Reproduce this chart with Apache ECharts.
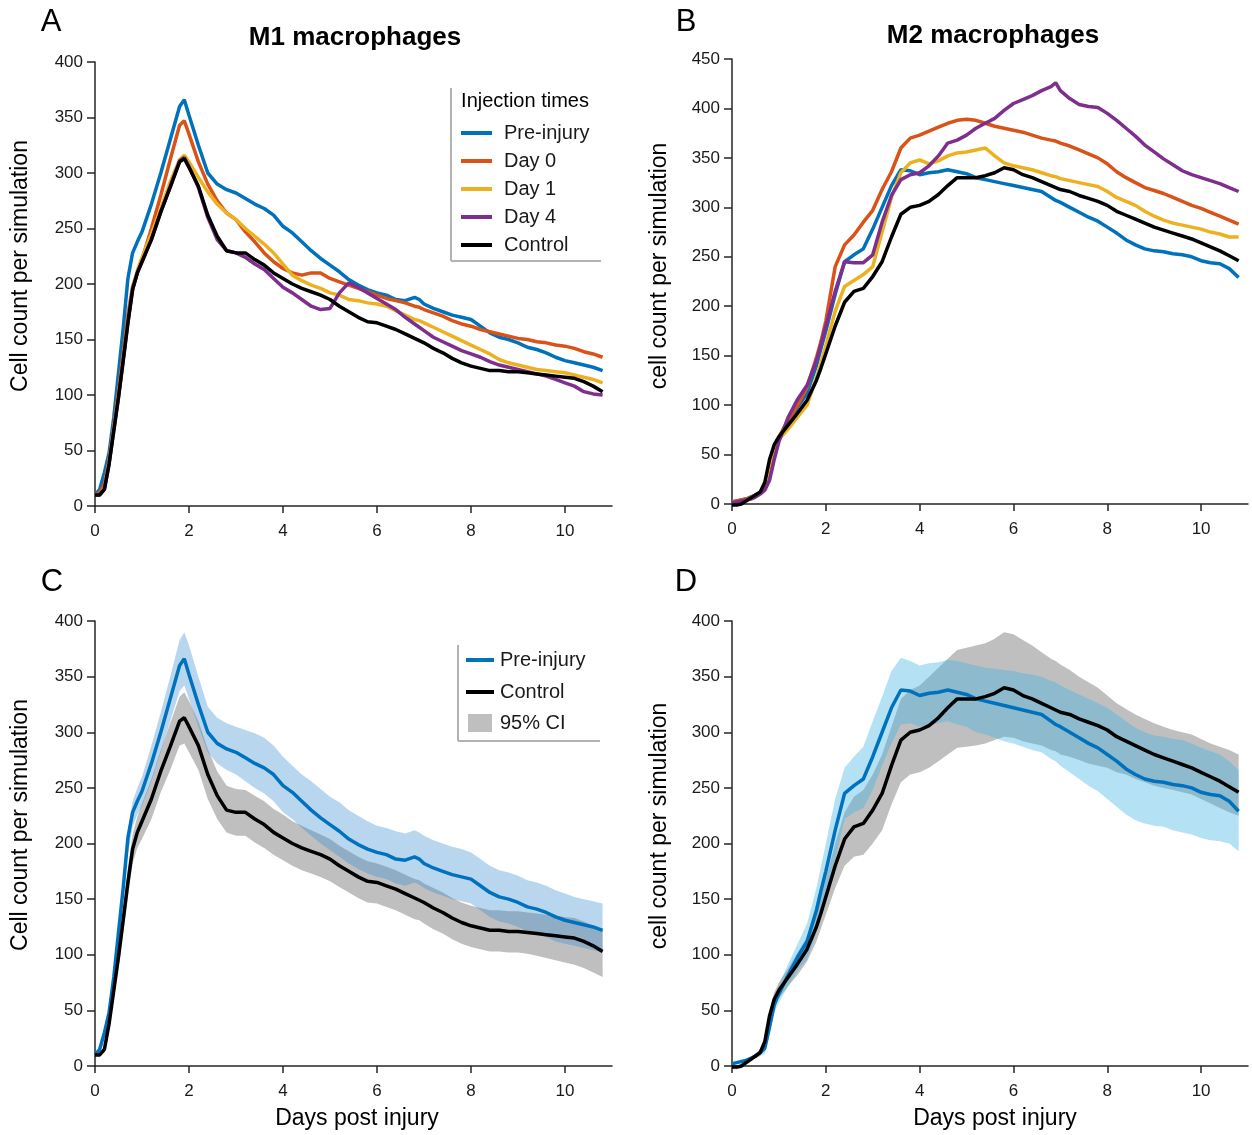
<!DOCTYPE html>
<html>
<head>
<meta charset="utf-8">
<script src="https://cdn.jsdelivr.net/npm/echarts@6/dist/echarts.min.js"></script>
<style>
  html, body { margin: 0; padding: 0; background: #fff; }
  #main { width: 1252px; height: 1135px; }
</style>
</head>
<body>
<div id="main"></div>
<script>
// Sample days (x values) shared by every series
const days = [0, 0.1, 0.2, 0.3, 0.4, 0.5, 0.6, 0.7, 0.8, 0.9, 1.0,
  1.2, 1.4, 1.6, 1.8, 1.9, 2.0,
  2.2, 2.4, 2.6, 2.8, 3.0, 3.2, 3.4, 3.6, 3.8, 4.0,
  4.2, 4.4, 4.6, 4.8, 5.0, 5.2, 5.4, 5.6, 5.8, 6.0,
  6.2, 6.4, 6.6, 6.8, 6.9, 7.0,
  7.2, 7.4, 7.6, 7.8, 8.0, 8.2, 8.4, 8.6, 8.8, 9.0,
  9.2, 9.4, 9.6, 9.8, 10.0, 10.2, 10.4, 10.6, 10.8];

const xTicks = [0, 2, 4, 6, 8, 10];

// M1 macrophages (panel A, lines reused in C)
const m1Pre = [10, 15, 30, 48, 80, 120, 160, 205, 228, 238, 247,
  272, 300, 330, 360, 366, 352,
  325, 300, 290, 285, 282, 277, 272, 268, 262, 252,
  246, 238, 230, 223, 217, 211, 204, 199, 195, 192,
  190, 186, 185, 188, 186, 182,
  178, 175, 172, 170, 168, 162, 156, 152, 150, 147,
  143, 141, 138, 134, 131, 129, 127, 125, 122];
const m1Day0 = [10, 12, 20, 42, 72, 104, 138, 172, 198, 210, 222,
  250, 280, 312, 343, 347, 335,
  310, 290, 275, 264, 258, 247, 238, 228, 220, 214,
  210, 208, 210, 210, 205, 202, 199, 196, 193, 190,
  187, 185, 183, 180, 179, 177,
  174, 171, 167, 164, 162, 159, 157, 155, 153, 151,
  150, 148, 147, 145, 144, 142, 139, 137, 134];
const m1Day1 = [10, 10, 16, 40, 70, 100, 133, 167, 196, 212, 224,
  245, 268, 292, 312, 316, 310,
  296, 283, 272, 264, 258, 250, 243, 236, 228, 218,
  208, 203, 199, 196, 192, 190, 186, 185, 183, 182,
  180, 176, 172, 168, 167, 165,
  161, 157, 153, 149, 145, 141, 137, 132, 129, 127,
  125, 123, 122, 121, 120, 118, 116, 114, 111];
const m1Day4 = [10, 10, 15, 38, 68, 98, 131, 165, 195, 210, 220,
  240, 265, 288, 311, 314, 306,
  287, 260, 240, 230, 228, 224, 218, 213, 205, 197,
  192, 186, 180, 177, 178, 192, 201, 197, 192, 187,
  182, 177, 170, 164, 161, 158,
  152, 148, 144, 140, 137, 134, 130, 127, 125, 123,
  121, 119, 117, 114, 111, 108, 103, 101, 100];
const m1Ctrl = [10, 10, 15, 38, 68, 98, 131, 165, 195, 210, 220,
  240, 265, 287, 310, 313, 305,
  288, 262, 243, 230, 228, 228, 222, 217, 210, 205,
  200, 196, 193, 190, 186, 180, 175, 170, 166, 165,
  162, 159, 155, 151, 149, 147,
  142, 138, 133, 129, 126, 124, 122, 122, 121, 121,
  120, 119, 118, 117, 116, 115, 112, 108, 103];

// M1 95% CI (panel C)
const m1PreHi = [11, 18, 35, 56, 88, 125, 168, 212, 238, 250, 260,
  288, 318, 350, 383, 390, 378,
  350, 323, 313, 308, 305, 302, 299, 295, 288, 278,
  270, 262, 256, 249, 242, 237, 230, 225, 220, 216,
  214, 211, 209, 212, 210, 207,
  203, 200, 197, 195, 192, 186, 180, 176, 174, 171,
  167, 165, 162, 158, 155, 152, 150, 148, 146];
const m1PreLo = [9, 12, 25, 40, 72, 112, 150, 190, 215, 226, 234,
  256, 282, 310, 337, 342, 330,
  305, 282, 272, 266, 262, 256, 250, 245, 238, 228,
  222, 214, 207, 200, 194, 188, 182, 177, 173, 170,
  168, 164, 162, 165, 163, 160,
  156, 153, 150, 148, 146, 140, 134, 130, 128, 125,
  121, 119, 116, 112, 110, 108, 106, 104, 102];
const m1CtrlHi = [11, 11, 18, 44, 76, 108, 142, 178, 208, 224, 236,
  258, 284, 308, 332, 336, 328,
  310, 285, 265, 252, 249, 248, 243, 238, 231, 226,
  220, 216, 212, 208, 204, 198, 193, 188, 184, 182,
  179, 176, 172, 168, 167, 164,
  160, 156, 151, 147, 144, 142, 140, 140, 139, 139,
  138, 137, 136, 135, 134, 133, 130, 126, 122];
const m1CtrlLo = [9, 9, 12, 32, 60, 88, 120, 152, 182, 196, 204,
  222, 246, 266, 288, 290, 282,
  266, 240, 222, 210, 207, 207, 201, 196, 190, 185,
  180, 176, 173, 170, 166, 161, 156, 151, 147, 146,
  143, 140, 136, 132, 131, 128,
  123, 119, 114, 110, 107, 105, 103, 103, 102, 102,
  101, 99, 97, 95, 93, 91, 88, 84, 80];

// M2 macrophages (panel B, lines reused in D)
const m2Pre = [2, 3, 4, 5, 7, 9, 12, 16, 35, 55, 65,
  82, 98, 112, 140, 158, 175,
  212, 245, 252, 258, 278, 300, 322, 338, 337, 333,
  335, 336, 338, 336, 334, 330, 328, 326, 324, 322,
  320, 318, 316, 310, 307, 305,
  300, 295, 290, 286, 280, 274, 267, 262, 258, 256,
  255, 253, 252, 250, 246, 244, 243, 238, 229];
const m2Day0 = [2, 3, 4, 5, 7, 9, 12, 17, 37, 57, 68,
  85, 100, 118, 148, 165, 185,
  240, 262, 272, 285, 297, 318, 336, 360, 370, 373,
  377, 381, 385, 388, 389, 388, 385, 382, 380, 378,
  376, 373, 370, 368, 367, 365,
  362, 358, 354, 350, 344, 336, 330, 325, 320, 317,
  314, 310, 306, 302, 299, 295, 291, 287, 283];
const m2Day1 = [0, 1, 2, 4, 6, 9, 12, 18, 40, 57, 65,
  76, 88, 100, 128, 143, 160,
  195, 220, 226, 232, 240, 275, 310, 335, 345, 348,
  344, 347, 352, 355, 356, 358, 360, 352, 345, 342,
  340, 338, 335, 332, 331, 329,
  327, 325, 323, 321, 316, 310, 306, 302, 296, 291,
  287, 284, 282, 280, 278, 275, 273, 270, 270];
const m2Day4 = [1, 2, 3, 4, 5, 7, 10, 14, 24, 45, 63,
  88, 106, 120, 145, 162, 180,
  215, 245, 244, 244, 252, 285, 312, 328, 333, 335,
  342, 352, 365, 368, 373, 380, 385, 390, 398, 405,
  409, 413, 418, 422, 426, 418,
  410, 404, 402, 401, 395, 388, 380, 372, 363, 356,
  349, 343, 337, 333, 330, 327, 324, 320, 316];
const m2Ctrl = [-1, -1, 0, 3, 6, 9, 12, 22, 45, 60, 68,
  80, 92, 105, 125, 138, 152,
  180, 204, 215, 218, 230, 245, 270, 293, 300, 302,
  306, 313, 322, 330, 330, 330, 332, 335, 340, 338,
  333, 330, 326, 322, 320, 318,
  316, 312, 309, 306, 302, 296, 292, 288, 284, 280,
  277, 274, 271, 268, 264, 260, 256, 251, 246];

// M2 95% CI (panel D)
const m2PreHi = [3, 4, 5, 6, 8, 11, 15, 22, 42, 62, 73,
  92, 110, 128, 160, 180, 200,
  240, 268, 278, 287, 310, 332, 355, 367, 364, 360,
  362, 363, 365, 364, 362, 360, 358, 357, 356, 355,
  353, 352, 350, 346, 345, 342,
  338, 334, 330, 326, 322, 316, 310, 304, 300, 297,
  296, 294, 293, 290, 286, 283, 280, 274, 266];
const m2PreLo = [1, 2, 3, 4, 6, 7, 9, 11, 28, 48, 57,
  72, 86, 96, 120, 136, 150,
  185, 222, 228, 232, 248, 270, 290, 307, 308, 305,
  307, 308, 310, 307, 305, 300, 298, 295, 292, 290,
  287, 284, 282, 276, 274, 270,
  264, 258, 252, 247, 240, 233, 226, 221, 218, 216,
  215, 212, 210, 208, 205, 203, 202, 200, 193];
const m2CtrlHi = [0, 0, 2, 5, 8, 11, 15, 25, 50, 66, 75,
  88, 102, 116, 138, 152, 168,
  200, 228, 242, 248, 262, 280, 305, 330, 338, 342,
  350, 358, 366, 374, 376, 378, 380, 384, 390, 388,
  383, 378, 372, 366, 364, 361,
  356, 350, 345, 340, 333, 326, 321, 316, 312, 308,
  305, 302, 300, 298, 294, 290, 287, 284, 280];
const m2CtrlLo = [-3, -3, -2, 1, 4, 7, 9, 18, 40, 54, 61,
  72, 82, 94, 112, 124, 136,
  160, 180, 188, 190, 200, 212, 235, 255, 262, 264,
  268, 274, 280, 286, 287, 288, 290, 293, 296, 295,
  292, 290, 288, 284, 283, 280,
  278, 275, 272, 270, 268, 264, 262, 258, 255, 252,
  250, 248, 246, 244, 240, 236, 232, 228, 225];

const COLORS = {
  pre: '#0072BD',
  day0: '#D95319',
  day1: '#EDB120',
  day4: '#7E2F8E',
  ctrl: '#000000',
};
const FONT = '"Liberation Sans", Arial, Helvetica, sans-serif';
const AXIS_COLOR = '#262626';

const pairs = (vals) => days.map((d, i) => [d, vals[i]]);

const lineSeries = (name, vals, color, idx) => ({
  name,
  type: 'line',
  xAxisIndex: idx,
  yAxisIndex: idx,
  data: pairs(vals),
  symbol: 'none',
  clip: false,
  lineStyle: { width: 3.5, color },
  itemStyle: { color },
  z: 3,
});

// CI band: one polygon through hi (forward) and lo (backward)
const bandSeries = (hi, lo, fill, idx, name, legendColor) => ({
  name,
  type: 'custom',
  xAxisIndex: idx,
  yAxisIndex: idx,
  data: days.map((d, i) => [d, lo[i], hi[i]]),
  encode: { x: 0, y: [1, 2] },
  itemStyle: { color: legendColor || fill },
  silent: true,
  z: 1,
  renderItem: (params, api) => {
    if (params.dataIndex !== 0) return null;
    const upper = days.map((d, i) => api.coord([d, hi[i]]));
    const lower = days.map((d, i) => api.coord([d, lo[i]])).reverse();
    return {
      type: 'polygon',
      shape: { points: upper.concat(lower) },
      style: { fill: fill },
    };
  },
});

const grids = [
  { left: 95, top: 62, width: 517, height: 444 },
  { left: 732, top: 59, width: 516, height: 445 },
  { left: 95, top: 621, width: 517, height: 445 },
  { left: 732, top: 621, width: 516, height: 445 },
];

const xAxes = grids.map((g, i) => ({
  type: 'value',
  gridIndex: i,
  min: 0,
  max: 11,
  axisLine: { lineStyle: { color: AXIS_COLOR, width: 1.5 } },
  axisTick: { length: 7, customValues: xTicks, lineStyle: { color: AXIS_COLOR, width: 1.5 } },
  axisLabel: { customValues: xTicks, fontSize: 17, color: '#1a1a1a', margin: 17, fontFamily: FONT },
  splitLine: { show: false },
}));

const yMax = [400, 450, 400, 400];
const yAxes = grids.map((g, i) => ({
  type: 'value',
  gridIndex: i,
  min: 0,
  max: yMax[i],
  interval: 50,
  axisLine: { show: true, lineStyle: { color: AXIS_COLOR, width: 1.5 } },
  axisTick: { show: true, length: 8, lineStyle: { color: AXIS_COLOR, width: 1.5 } },
  axisLabel: { fontSize: 17, color: '#1a1a1a', margin: 12, fontFamily: FONT },
  splitLine: { show: false },
}));

const series = [
  // A
  lineSeries('Pre-injury', m1Pre, COLORS.pre, 0),
  lineSeries('Day 0', m1Day0, COLORS.day0, 0),
  lineSeries('Day 1', m1Day1, COLORS.day1, 0),
  lineSeries('Day 4', m1Day4, COLORS.day4, 0),
  lineSeries('Control', m1Ctrl, COLORS.ctrl, 0),
  // B
  lineSeries('Pre-injury', m2Pre, COLORS.pre, 1),
  lineSeries('Day 0', m2Day0, COLORS.day0, 1),
  lineSeries('Day 1', m2Day1, COLORS.day1, 1),
  lineSeries('Day 4', m2Day4, COLORS.day4, 1),
  lineSeries('Control', m2Ctrl, COLORS.ctrl, 1),
  // C
  bandSeries(m1CtrlHi, m1CtrlLo, 'rgba(128,128,128,0.5)', 2, '95% CI', '#bfbfbf'),
  bandSeries(m1PreHi, m1PreLo, 'rgba(60,140,210,0.36)', 2, 'ci-pre-c'),
  lineSeries('Pre-injury', m1Pre, COLORS.pre, 2),
  lineSeries('Control', m1Ctrl, COLORS.ctrl, 2),
  // D
  bandSeries(m2CtrlHi, m2CtrlLo, 'rgba(128,128,128,0.5)', 3, 'ci-ctrl-d'),
  bandSeries(m2PreHi, m2PreLo, 'rgba(70,180,230,0.4)', 3, 'ci-pre-d'),
  lineSeries('Pre-injury', m2Pre, COLORS.pre, 3),
  lineSeries('Control', m2Ctrl, COLORS.ctrl, 3),
];

const legendText = { fontSize: 20, color: '#1a1a1a', fontFamily: FONT, lineHeight: 20 };

const legends = [
  {
    data: ['Pre-injury', 'Day 0', 'Day 1', 'Day 4', 'Control'],
    orient: 'vertical',
    left: 461,
    top: 123,
    padding: 0,
    icon: 'rect',
    itemWidth: 31,
    itemHeight: 4,
    itemGap: 8,
    selectedMode: false,
    textStyle: { ...legendText, padding: [0, 0, 0, 7] },
  },
  {
    data: ['Pre-injury', 'Control'],
    orient: 'vertical',
    left: 466,
    top: 650,
    padding: 0,
    icon: 'rect',
    itemWidth: 28,
    itemHeight: 4,
    itemGap: 12,
    selectedMode: false,
    textStyle: { ...legendText, padding: [0, 0, 0, 1] },
  },
  {
    data: ['95% CI'],
    orient: 'vertical',
    left: 468,
    top: 713,
    padding: 0,
    icon: 'rect',
    itemWidth: 24,
    itemHeight: 18,
    selectedMode: false,
    textStyle: { ...legendText, padding: [0, 0, 0, 3] },
  },
];

const txt = (text, x, y, size, opts = {}) => ({
  type: 'text',
  x,
  y,
  rotation: opts.rotation || 0,
  style: {
    text,
    fontSize: size,
    fontWeight: opts.bold ? 'bold' : 'normal',
    fontFamily: FONT,
    fill: '#000',
    align: 'center',
    verticalAlign: 'middle',
  },
});

const border = (x1, y1, x2, y2) => ({
  type: 'line',
  shape: { x1, y1, x2, y2 },
  style: { stroke: '#b3b3b3', lineWidth: 2 },
});

const graphic = [
  txt('A', 51, 22, 31),
  txt('B', 686, 22, 31),
  txt('C', 52, 582, 31),
  txt('D', 686, 582, 31),
  txt('M1 macrophages', 355, 38, 26, { bold: true }),
  txt('M2 macrophages', 993, 36, 26, { bold: true }),
  txt('Cell count per simulation', 21, 266, 23, { rotation: Math.PI / 2 }),
  txt('cell count per simulation', 660, 266, 23, { rotation: Math.PI / 2 }),
  txt('Cell count per simulation', 21, 825, 23, { rotation: Math.PI / 2 }),
  txt('cell count per simulation', 660, 826, 23, { rotation: Math.PI / 2 }),
  txt('Days post injury', 357, 1119, 23),
  txt('Days post injury', 995, 1119, 23),
  txt('Injection times', 525, 101, 20),
  border(451, 88, 451, 261),
  border(451, 261, 601, 261),
  border(458, 645, 458, 741),
  border(458, 741, 600, 741),
];

const chart = echarts.init(document.getElementById('main'));
chart.setOption({
  animation: false,
  textStyle: { fontFamily: FONT },
  grid: grids,
  xAxis: xAxes,
  yAxis: yAxes,
  legend: legends,
  series: series,
  graphic: graphic,
});
</script>
</body>
</html>
